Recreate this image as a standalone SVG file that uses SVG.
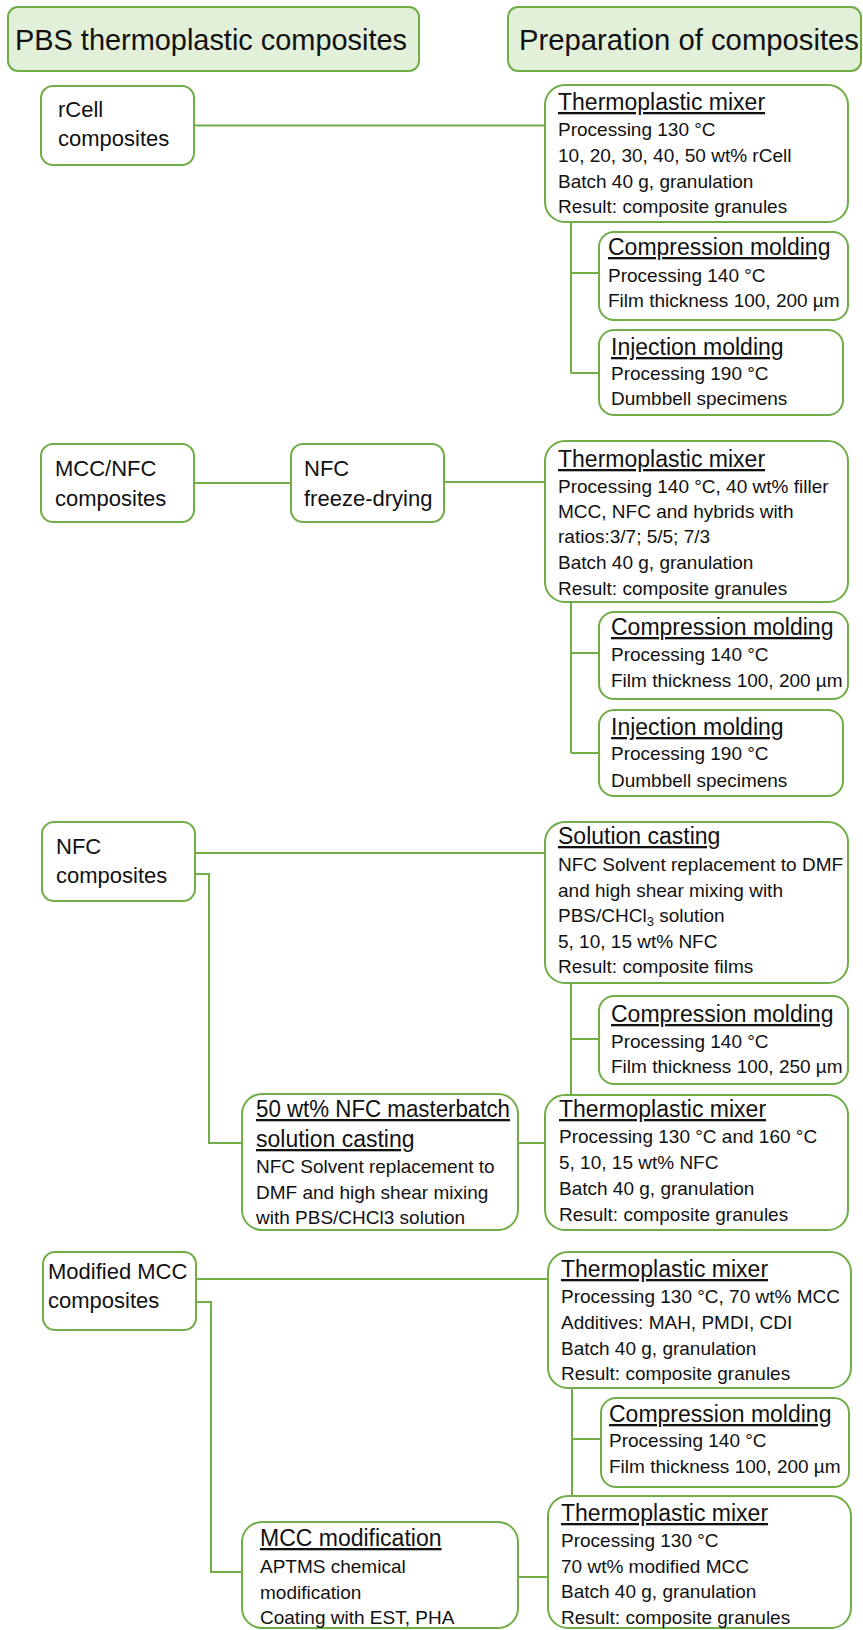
<svg xmlns="http://www.w3.org/2000/svg" width="863" height="1630" viewBox="0 0 863 1630">
<style>
.box{fill:#ffffff;stroke:#70ad47;stroke-width:2}
.hdr{fill:#e2efd9;stroke:#70ad47;stroke-width:2}
.con{fill:none;stroke:#70ad47;stroke-width:2}
text{font-family:"Liberation Sans",Arial,sans-serif;fill:#111}
.h{font-size:29px}
.n{font-size:22px}
.t{font-size:23px;text-decoration:underline}
.b{font-size:19px}
</style>
<rect width="863" height="1630" fill="#ffffff"/>
<g id="connectors">
<path class="con" d="M194 125.5 H545"/>
<path class="con" d="M571 222 V373 M571 273 H599 M571 373 H599"/>
<path class="con" d="M194 483 H291 M444 482 H545"/>
<path class="con" d="M571 602 V753 M571 653 H599 M571 753 H599"/>
<path class="con" d="M195 853 H545 M195 874 H209 V1143 H242"/>
<path class="con" d="M571 983 V1095 M571 1039 H599"/>
<path class="con" d="M518 1143 H545"/>
<path class="con" d="M196 1279 H548 M196 1302 H211 V1572 H242"/>
<path class="con" d="M572 1388 V1496 M572 1439 H601"/>
<path class="con" d="M518 1577 H548"/>
</g>
<g id="header-left">
<rect class="hdr" x="8" y="7" width="411" height="64" rx="10"/>
<text class="h" x="15" y="50" textLength="392" lengthAdjust="spacingAndGlyphs">PBS thermoplastic composites</text>
</g>
<g id="header-right">
<rect class="hdr" x="508" y="7" width="353" height="64" rx="10"/>
<text class="h" x="519" y="50" textLength="340" lengthAdjust="spacingAndGlyphs">Preparation of composites</text>
</g>
<g id="rcell">
<rect class="box" x="41" y="86" width="153" height="79" rx="12"/>
<text class="n" x="58" y="117">rCell</text>
<text class="n" x="58" y="146">composites</text>
</g>
<g id="thermo1">
<rect class="box" x="545" y="85" width="303" height="137" rx="20"/>
<text class="t" x="558" y="110">Thermoplastic mixer</text>
<text class="b" x="558" y="136">Processing 130 °C</text>
<text class="b" x="558" y="162">10, 20, 30, 40, 50 wt% rCell</text>
<text class="b" x="558" y="188">Batch 40 g, granulation</text>
<text class="b" x="558" y="213">Result: composite granules</text>
</g>
<g id="comp1">
<rect class="box" x="599" y="232" width="249" height="88" rx="15"/>
<text class="t" x="608" y="255">Compression molding</text>
<text class="b" x="608" y="282">Processing 140 °C</text>
<text class="b" x="608" y="307">Film thickness 100, 200 µm</text>
</g>
<g id="inj1">
<rect class="box" x="599" y="330" width="244" height="85" rx="15"/>
<text class="t" x="611" y="355">Injection molding</text>
<text class="b" x="611" y="380">Processing 190 °C</text>
<text class="b" x="611" y="405">Dumbbell specimens</text>
</g>
<g id="mccnfc">
<rect class="box" x="41" y="444" width="153" height="78" rx="12"/>
<text class="n" x="55" y="476">MCC/NFC</text>
<text class="n" x="55" y="506">composites</text>
</g>
<g id="freeze">
<rect class="box" x="291" y="444" width="153" height="78" rx="12"/>
<text class="n" x="304" y="476">NFC</text>
<text class="n" x="304" y="506">freeze-drying</text>
</g>
<g id="thermo2">
<rect class="box" x="545" y="441" width="303" height="161" rx="20"/>
<text class="t" x="558" y="467">Thermoplastic mixer</text>
<text class="b" x="558" y="493">Processing 140 °C, 40 wt% filler</text>
<text class="b" x="558" y="518">MCC, NFC and hybrids with</text>
<text class="b" x="558" y="543">ratios:3/7; 5/5; 7/3</text>
<text class="b" x="558" y="569">Batch 40 g, granulation</text>
<text class="b" x="558" y="595">Result: composite granules</text>
</g>
<g id="comp2">
<rect class="box" x="599" y="612" width="249" height="87" rx="15"/>
<text class="t" x="611" y="635">Compression molding</text>
<text class="b" x="611" y="661">Processing 140 °C</text>
<text class="b" x="611" y="687">Film thickness 100, 200 µm</text>
</g>
<g id="inj2">
<rect class="box" x="599" y="710" width="244" height="86" rx="15"/>
<text class="t" x="611" y="735">Injection molding</text>
<text class="b" x="611" y="760">Processing 190 °C</text>
<text class="b" x="611" y="787">Dumbbell specimens</text>
</g>
<g id="nfc">
<rect class="box" x="42" y="822" width="153" height="79" rx="12"/>
<text class="n" x="56" y="854">NFC</text>
<text class="n" x="56" y="883">composites</text>
</g>
<g id="solcast">
<rect class="box" x="545" y="822" width="303" height="161" rx="20"/>
<text class="t" x="558" y="844">Solution casting</text>
<text class="b" x="558" y="871">NFC Solvent replacement to DMF</text>
<text class="b" x="558" y="897">and high shear mixing with</text>
<text class="b" x="558" y="922">PBS/CHCl<tspan font-size="13" dy="4">3</tspan><tspan dy="-4"> solution</tspan></text>
<text class="b" x="558" y="948">5, 10, 15 wt% NFC</text>
<text class="b" x="558" y="973">Result: composite films</text>
</g>
<g id="comp3">
<rect class="box" x="599" y="996" width="249" height="88" rx="15"/>
<text class="t" x="611" y="1022">Compression molding</text>
<text class="b" x="611" y="1048">Processing 140 °C</text>
<text class="b" x="611" y="1073">Film thickness 100, 250 µm</text>
</g>
<g id="masterbatch">
<rect class="box" x="242" y="1094" width="276" height="136" rx="20"/>
<text class="t" x="256" y="1117" textLength="254" lengthAdjust="spacingAndGlyphs">50 wt% NFC masterbatch</text>
<text class="t" x="256" y="1147">solution casting</text>
<text class="b" x="256" y="1173">NFC Solvent replacement to</text>
<text class="b" x="256" y="1199">DMF and high shear mixing</text>
<text class="b" x="256" y="1224">with PBS/CHCl3 solution</text>
</g>
<g id="thermo3">
<rect class="box" x="545" y="1095" width="303" height="135" rx="20"/>
<text class="t" x="559" y="1117">Thermoplastic mixer</text>
<text class="b" x="559" y="1143">Processing 130 °C and 160 °C</text>
<text class="b" x="559" y="1169">5, 10, 15 wt% NFC</text>
<text class="b" x="559" y="1195">Batch 40 g, granulation</text>
<text class="b" x="559" y="1221">Result: composite granules</text>
</g>
<g id="modmcc">
<rect class="box" x="43" y="1252" width="153" height="78" rx="12"/>
<text class="n" x="48" y="1279">Modified MCC</text>
<text class="n" x="48" y="1308">composites</text>
</g>
<g id="thermo4">
<rect class="box" x="548" y="1252" width="303" height="136" rx="20"/>
<text class="t" x="561" y="1277">Thermoplastic mixer</text>
<text class="b" x="561" y="1303">Processing 130 °C, 70 wt% MCC</text>
<text class="b" x="561" y="1329">Additives: MAH, PMDI, CDI</text>
<text class="b" x="561" y="1355">Batch 40 g, granulation</text>
<text class="b" x="561" y="1380">Result: composite granules</text>
</g>
<g id="comp4">
<rect class="box" x="601" y="1398" width="248" height="89" rx="15"/>
<text class="t" x="609" y="1422">Compression molding</text>
<text class="b" x="609" y="1447">Processing 140 °C</text>
<text class="b" x="609" y="1473">Film thickness 100, 200 µm</text>
</g>
<g id="mccmod">
<rect class="box" x="242" y="1522" width="276" height="106" rx="20"/>
<text class="t" x="260" y="1546">MCC modification</text>
<text class="b" x="260" y="1573">APTMS chemical</text>
<text class="b" x="260" y="1599">modification</text>
<text class="b" x="260" y="1624">Coating with EST, PHA</text>
</g>
<g id="thermo5">
<rect class="box" x="548" y="1496" width="303" height="132" rx="20"/>
<text class="t" x="561" y="1521">Thermoplastic mixer</text>
<text class="b" x="561" y="1547">Processing 130 °C</text>
<text class="b" x="561" y="1573">70 wt% modified MCC</text>
<text class="b" x="561" y="1598">Batch 40 g, granulation</text>
<text class="b" x="561" y="1624">Result: composite granules</text>
</g>
</svg>
